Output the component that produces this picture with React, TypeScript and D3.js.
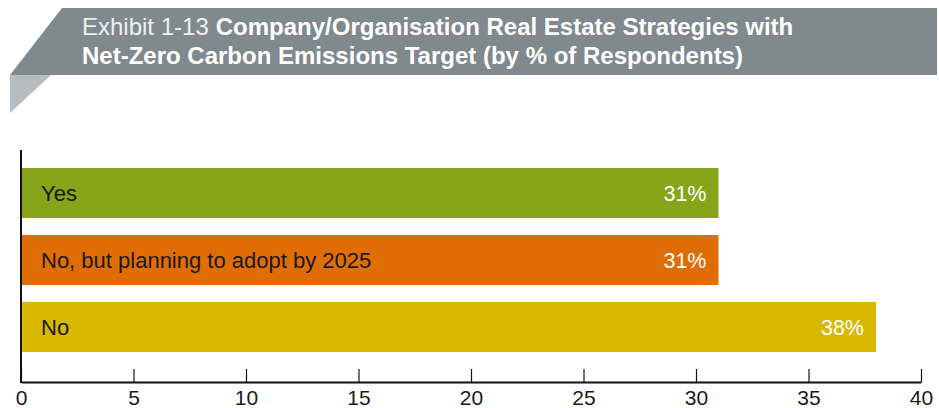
import { useEffect, useRef } from "react";
import * as d3 from "d3";

const categories = ["Yes", "No, but planning to adopt by 2025", "No"];
const values = [31, 31, 38];
const barColors = ["#88a418", "#e06c04", "#d9b802"];
const xTicks = [0, 5, 10, 15, 20, 25, 30, 35, 40];

const exhibitLabel = "Exhibit 1-13";
const titleLine1 = "Company/Organisation Real Estate Strategies with";
const titleLine2 = "Net-Zero Carbon Emissions Target (by % of Respondents)";

const FONT = "'Liberation Sans', Arial, Helvetica, sans-serif";

export default function App() {
  const svgRef = useRef<SVGSVGElement>(null);

  useEffect(() => {
    if (!svgRef.current) return;
    const width = 939;
    const height = 408;

    const svg = d3.select(svgRef.current);
    svg.selectAll("*").remove();
    svg.attr("width", width).attr("height", height);

    // Banner
    svg
      .append("path")
      .attr("d", "M62,8 L937,8 L937,75 L10,75 Z")
      .attr("fill", "#7f898e");
    svg
      .append("path")
      .attr("d", "M10,75 L51,75 L10,113 Z")
      .attr("fill", "#b5bdc2");

    const title = svg
      .append("text")
      .attr("font-family", FONT)
      .attr("font-size", 24)
      .attr("fill", "#ffffff");
    const l1 = title.append("tspan").attr("x", 82).attr("y", 35);
    l1.append("tspan").attr("fill", "#eef0f1").text(exhibitLabel);
    l1.append("tspan").attr("dx", 7).attr("font-weight", "bold").text(titleLine1);
    title
      .append("tspan")
      .attr("x", 82)
      .attr("y", 64)
      .attr("font-weight", "bold")
      .text(titleLine2);

    const x = d3.scaleLinear().domain([0, 40]).range([21, 921]);
    const y = d3
      .scaleBand<string>()
      .domain(categories)
      .range([168, 352])
      .paddingInner(17 / 67)
      .paddingOuter(0);

    const data = categories.map((c, i) => ({ cat: c, value: values[i], color: barColors[i] }));

    // Bars
    svg
      .append("g")
      .selectAll("rect")
      .data(data)
      .join("rect")
      .attr("x", x(0))
      .attr("y", (d) => y(d.cat)!)
      .attr("width", (d) => x(d.value) - x(0))
      .attr("height", y.bandwidth())
      .attr("fill", (d) => d.color);

    // Category labels
    svg
      .append("g")
      .selectAll("text")
      .data(data)
      .join("text")
      .attr("x", x(0) + 20)
      .attr("y", (d) => y(d.cat)! + y.bandwidth() / 2)
      .attr("dy", "0.36em")
      .attr("font-family", FONT)
      .attr("font-size", 22)
      .attr("fill", "#1a1a1a")
      .text((d) => d.cat);

    // Value labels
    svg
      .append("g")
      .selectAll("text")
      .data(data)
      .join("text")
      .attr("x", (d) => x(d.value) - 12)
      .attr("y", (d) => y(d.cat)! + y.bandwidth() / 2)
      .attr("dy", "0.36em")
      .attr("text-anchor", "end")
      .attr("font-family", FONT)
      .attr("font-size", 21.5)
      .attr("fill", "#ffffff")
      .text((d) => `${d.value}%`);

    // X axis
    const axisY = 382;
    svg
      .append("g")
      .attr("transform", `translate(0,${axisY})`)
      .call(d3.axisBottom(x).tickValues(xTicks).tickSizeInner(-13).tickSizeOuter(0).tickPadding(0))
      .call((axis) => {
        axis.select(".domain").attr("stroke", "#111").attr("stroke-width", 2);
        axis.selectAll(".tick line").attr("stroke", "#111").attr("stroke-width", 1.2);
        axis
          .selectAll(".tick text")
          .attr("y", 23)
          .attr("dy", 0)
          .attr("font-family", FONT)
          .attr("font-size", 21)
          .attr("fill", "#1a1a1a");
      });

    // Y axis line
    svg
      .append("line")
      .attr("x1", x(0))
      .attr("x2", x(0))
      .attr("y1", 150)
      .attr("y2", axisY + 1)
      .attr("stroke", "#111")
      .attr("stroke-width", 2);
  }, []);

  return (
    <div style={{ width: 939, height: 408 }}>
      <style>{`body{margin:0}`}</style>
      <svg ref={svgRef} style={{ display: "block" }} />
    </div>
  );
}
